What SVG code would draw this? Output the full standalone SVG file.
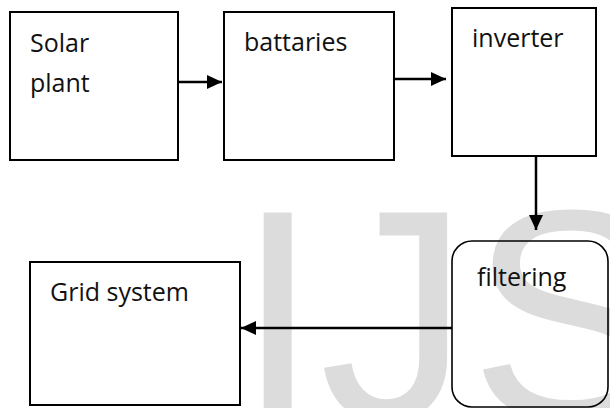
<svg xmlns="http://www.w3.org/2000/svg" width="610" height="408" viewBox="0 0 610 408">
  <style>
    .box { fill: none; stroke: #000; stroke-width: 2; }
    .rbox { fill: none; stroke: #000; stroke-width: 1.6; }
    .lbl { font-family: "Open Sans", "Liberation Sans", sans-serif; font-size: 25px; fill: #111; }
    .conn { stroke: #000; stroke-width: 2.5; fill: none; marker-end: url(#arrow); }
    .wm { font-family: "Liberation Sans", Arial, sans-serif; font-size: 300px; fill: #dcdcdc; }
  </style>
  <defs>
    <marker id="arrow" markerUnits="userSpaceOnUse" markerWidth="16" markerHeight="15" refX="15" refY="7" orient="auto">
      <path d="M0,0 L15,7 L0,14 Z" fill="#000"/>
    </marker>
  </defs>
  <rect width="610" height="408" fill="#fff"/>
  <text class="wm" x="236" y="419">IJS</text>

  <g id="solar-plant">
    <rect class="box" x="10" y="12" width="168" height="148"/>
    <text class="lbl" x="30" y="52">Solar</text>
    <text class="lbl" x="30" y="92">plant</text>
  </g>
  <g id="battaries">
    <rect class="box" x="224" y="12" width="170" height="148"/>
    <text class="lbl" x="244" y="51">battaries</text>
  </g>
  <g id="inverter">
    <rect class="box" x="452" y="8" width="144" height="148"/>
    <text class="lbl" x="472" y="47">inverter</text>
  </g>
  <g id="filtering">
    <rect class="rbox" x="452" y="241" width="156" height="166" rx="20" ry="20"/>
    <text class="lbl" x="477" y="286">filtering</text>
  </g>
  <g id="grid-system">
    <rect class="box" x="30" y="262" width="210" height="143"/>
    <text class="lbl" x="50" y="301">Grid system</text>
  </g>

  <g id="connectors">
    <line class="conn" x1="178" y1="82" x2="222" y2="82"/>
    <line class="conn" x1="394" y1="79" x2="446" y2="79"/>
    <line class="conn" x1="536" y1="156" x2="536" y2="230"/>
    <line class="conn" x1="452" y1="328" x2="241" y2="328"/>
  </g>
</svg>
